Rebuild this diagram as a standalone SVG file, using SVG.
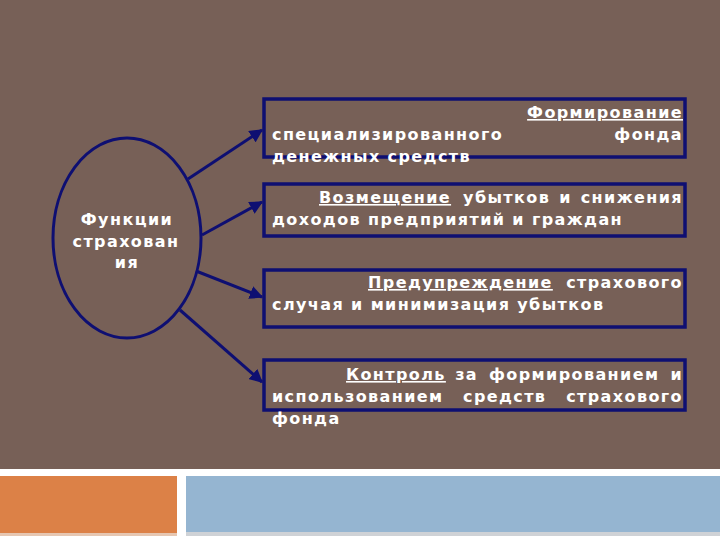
<svg xmlns="http://www.w3.org/2000/svg" width="720" height="540" viewBox="0 0 720 540">
<defs>
<style>
.box{fill:none;stroke:#0e0f72;stroke-width:3.5}
.t{font-family:"DejaVu Sans",sans-serif;font-weight:bold;font-size:16px;fill:#ffffff;letter-spacing:1.4px}
.u{text-decoration:underline}
.c{stroke:#0e0f72;stroke-width:3;fill:none}
</style>
<marker id="ah" viewBox="0 0 10 10" refX="9" refY="5" markerWidth="4.5" markerHeight="4.5" orient="auto" markerUnits="strokeWidth">
<path d="M0,0 L10,5 L0,10 z" fill="#0e0f72"/>
</marker>
</defs>
<rect x="0" y="0" width="720" height="540" fill="#ffffff"/>
<rect x="0" y="0" width="720" height="469" fill="#776057"/>
<rect x="0" y="476" width="177" height="57" fill="#dc8147"/>
<rect x="0" y="533" width="177" height="3" fill="#e6c7b2"/>
<rect x="186" y="476" width="534" height="56" fill="#95b5d1"/>
<rect x="186" y="532" width="534" height="4" fill="#cfd2d6"/>

<g id="connectors">
<line class="c" x1="188" y1="179" x2="262" y2="130" marker-end="url(#ah)"/>
<line class="c" x1="202" y1="235" x2="262" y2="202" marker-end="url(#ah)"/>
<line class="c" x1="196" y1="271" x2="262" y2="297" marker-end="url(#ah)"/>
<line class="c" x1="180" y1="310" x2="262" y2="382" marker-end="url(#ah)"/>
</g>

<g id="center">
<ellipse cx="127" cy="238" rx="74" ry="100" fill="none" stroke="#0e0f72" stroke-width="3"/>
<text class="t" text-anchor="middle" letter-spacing="0.6" x="127" y="225">Функции</text>
<text class="t" text-anchor="middle" letter-spacing="0.6" x="126" y="247">страхован</text>
<text class="t" text-anchor="middle" letter-spacing="0.6" x="127" y="268">ия</text>
</g>

<g id="box1">
<rect class="box" x="264" y="99" width="421" height="58"/>
<text class="t u" text-anchor="end" x="683" y="118">Формирование</text>
<text class="t" x="272" y="140">специализированного</text>
<text class="t" text-anchor="end" x="683" y="140">фонда</text>
<text class="t" x="272" y="162">денежных средств</text>
</g>

<g id="box2">
<rect class="box" x="264" y="184" width="421" height="52"/>
<text class="t u" x="319" y="203">Возмещение</text>
<text class="t" text-anchor="end" x="683" y="203" word-spacing="2">убытков и снижения</text>
<text class="t" x="272" y="225">доходов предприятий и граждан</text>
</g>

<g id="box3">
<rect class="box" x="264" y="270" width="421" height="57"/>
<text class="t u" x="368" y="288">Предупреждение</text>
<text class="t" text-anchor="end" x="683" y="288">страхового</text>
<text class="t" x="272" y="310">случая и минимизация убытков</text>
</g>

<g id="box4">
<rect class="box" x="264" y="360" width="421" height="50"/>
<text class="t u" x="346" y="380">Контроль</text>
<text class="t" text-anchor="end" x="683" y="380" word-spacing="4">за формированием и</text>
<text class="t" x="272" y="402">использованием</text>
<text class="t" x="463" y="402">средств</text>
<text class="t" text-anchor="end" x="683" y="402">страхового</text>
<text class="t" x="272" y="424">фонда</text>
</g>
</svg>
